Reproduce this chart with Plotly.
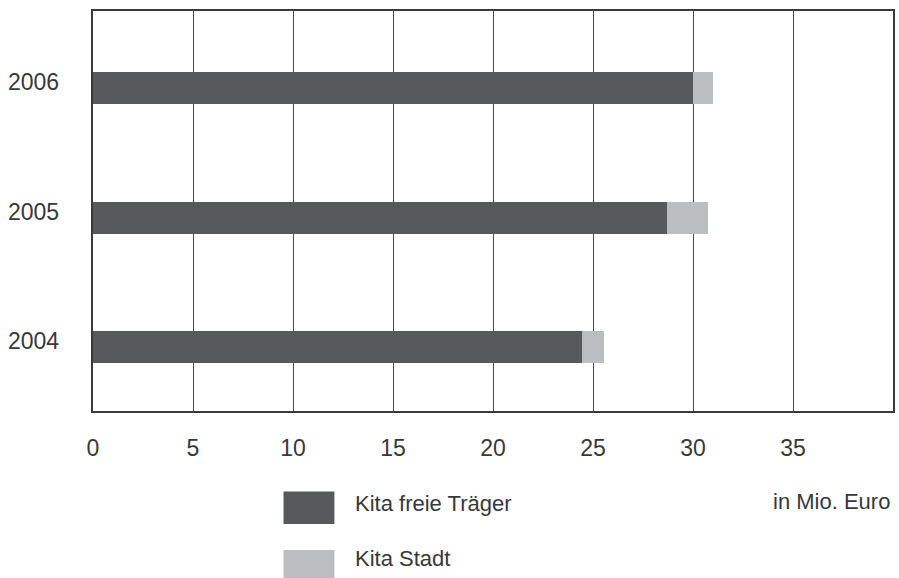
import plotly.graph_objects as go

years = ["2004", "2005", "2006"]
freie_traeger = [24.45, 28.7, 30.0]
stadt = [1.1, 2.05, 1.0]
series_names = ["Kita freie Träger", "Kita Stadt"]
series_colors = ["#58595b", "#bcbdc0"]
x_ticks = [0, 5, 10, 15, 20, 25, 30, 35]
unit_label = "in Mio. Euro"

FONT = "Liberation Sans"
TXT = "#383838"

# plot-area geometry in pixels (for paper-coordinate conversions)
L, R, T, B = 93, 895, 11, 411
PW, PH = R - L, B - T


def px_x(x):
    return (x - L) / PW


def px_y(y):
    return (B - y) / PH


fig = go.Figure()
for name, vals, col in zip(series_names, [freie_traeger, stadt], series_colors):
    fig.add_trace(go.Bar(
        y=years, x=vals, name=name, orientation="h",
        marker=dict(color=col, line=dict(width=0)),
        width=0.247, showlegend=False, hoverinfo="x+name",
    ))

fig.update_layout(
    barmode="stack",
    width=899, height=578,
    margin=dict(l=L, r=899 - R, t=T, b=578 - B),
    paper_bgcolor="white", plot_bgcolor="white",
    font=dict(family=FONT, size=22, color=TXT),
    xaxis=dict(
        range=[0, 40], tickvals=x_ticks, ticktext=[str(v) for v in x_ticks],
        showgrid=True, gridcolor="#4a4a4a", gridwidth=1.3,
        zeroline=False, showline=True, linecolor="#3a3a3a", linewidth=1.5,
        mirror=True, ticks="", ticklabelstandoff=16,
        tickfont=dict(family=FONT, size=23, color=TXT),
    ),
    yaxis=dict(
        type="category", categoryorder="array", categoryarray=years,
        range=[-0.494, 2.595],
        showgrid=False, zeroline=False, showline=True, linecolor="#3a3a3a",
        linewidth=1.5, mirror=True, ticks="", showticklabels=False,
    ),
)

# y category labels (slightly above bar centre, as in the reference)
for i, yr in enumerate(years):
    fig.add_annotation(text=yr, xref="paper", yref="y", x=px_x(61), y=i,
                       xanchor="right", yanchor="middle", yshift=6,
                       showarrow=False,
                       font=dict(family=FONT, size=23, color=TXT))

# legend drawn manually to match the large swatches
legend_swatch = [(491.5, 524), (550, 582)]
legend_text_y = [503, 558]
for name, col, (y0, y1), ty in zip(series_names, series_colors, legend_swatch, legend_text_y):
    fig.add_shape(type="rect", xref="paper", yref="paper",
                  x0=px_x(284), x1=px_x(335), y0=px_y(y1), y1=px_y(y0),
                  fillcolor=col, line=dict(width=0))
    fig.add_annotation(text=name, xref="paper", yref="paper",
                       x=px_x(354), y=px_y(ty),
                       xanchor="left", yanchor="middle", showarrow=False,
                       font=dict(family=FONT, size=22, color=TXT))

fig.add_annotation(text=unit_label, xref="paper", yref="paper",
                   x=px_x(894), y=px_y(501),
                   xanchor="right", yanchor="middle", showarrow=False,
                   font=dict(family=FONT, size=22, color=TXT))

fig.write_html("out.html")
